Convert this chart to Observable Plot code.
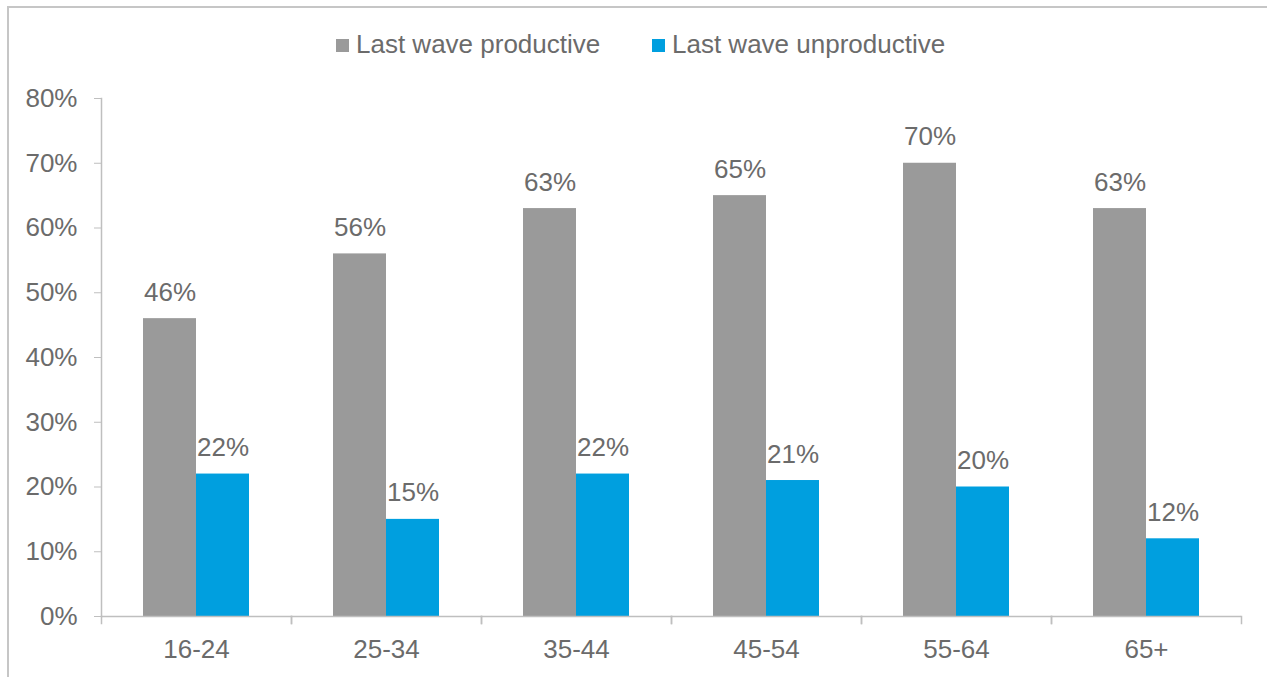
<!DOCTYPE html>
<html>
<head>
<meta charset="utf-8">
<script src="https://cdn.jsdelivr.net/npm/d3@7"></script>
<script src="https://cdn.jsdelivr.net/npm/@observablehq/plot@0.6"></script>
<style>
  html, body { margin: 0; padding: 0; background: #fff; overflow: hidden; }
  #wrap { position: relative; width: 1267px; height: 677px; font-family: "Liberation Sans", Arial, sans-serif; }
  #border { position: absolute; left: 7px; top: 6px; width: 1300px; height: 720px; border: 2px solid #c6c6c6; box-sizing: border-box; }
  #legend { position: relative; height: 75px; }
  .item { position: absolute; top: 31px; font-size: 26px; line-height: 26px; color: #6b6b6b; white-space: nowrap; }
  .sw { position: absolute; width: 13px; height: 13px; top: 8px; }
  #chart { position: relative; }
</style>
</head>
<body>
<div id="wrap">
  <div id="border"></div>
  <div id="legend"></div>
  <div id="chart"></div>
</div>
<script>
// Age groups along the bottom
const ageGroups = ["16-24", "25-34", "35-44", "45-54", "55-64", "65+"];
// Share of respondents (%) in each group
const productive = [46, 56, 63, 65, 70, 63];
const unproductive = [22, 15, 22, 21, 20, 12];
const seriesNames = ["Last wave productive", "Last wave unproductive"];
const seriesColors = ["#9a9a9a", "#009fdf"];
const yTicks = [0, 10, 20, 30, 40, 50, 60, 70, 80];

// long table: one row per bar
const rows = [];
ageGroups.forEach((g, i) => {
  rows.push({group: g, series: seriesNames[0], value: productive[i]});
  rows.push({group: g, series: seriesNames[1], value: unproductive[i]});
});

// legend
const legend = document.getElementById("legend");
const legendLeft = [336, 652];
seriesNames.forEach((name, i) => {
  const item = document.createElement("div");
  item.className = "item";
  item.style.left = legendLeft[i] + "px";
  item.style.paddingLeft = "20px";
  const sw = document.createElement("span");
  sw.className = "sw";
  sw.style.left = "0px";
  sw.style.background = seriesColors[i];
  item.appendChild(sw);
  item.appendChild(document.createTextNode(name));
  legend.appendChild(item);
});

const axisGray = "#bfbfbf";
const textGray = "#6b6b6b";

const chart = Plot.plot({
  width: 1267,
  height: 602,
  marginTop: 23,
  marginBottom: 61,
  marginLeft: 101,
  marginRight: 26,
  style: {fontFamily: "'Liberation Sans', Arial, sans-serif", fontSize: "26px", color: textGray, background: "transparent"},
  fx: {domain: ageGroups, padding: 0, label: null, axis: null},
  x: {domain: seriesNames, paddingInner: 0, paddingOuter: 0.76, axis: null},
  y: {domain: [0, 80], range: [602 - 61, 23], label: null, axis: null},
  color: {domain: seriesNames, range: seriesColors},
  marks: [
    Plot.barY(rows, {fx: "group", x: "series", y: "value", fill: "series"}),
    Plot.text(rows, {
      fx: "group", x: "series", y: "value",
      text: d => d.value + "%",
      lineAnchor: "bottom", dy: -18, fill: textGray, fontSize: 26
    }),
    Plot.ruleY([0], {stroke: axisGray, strokeWidth: 1.5}),
    // value axis line, in the first panel only
    Plot.frame({fx: [ageGroups[0]], anchor: "left", stroke: axisGray, strokeWidth: 1.5}),
    // category separators below the baseline
    Plot.frame({anchor: "left", stroke: axisGray, strokeWidth: 1.5, insetTop: 518, insetBottom: -7}),
    Plot.frame({anchor: "right", stroke: axisGray, strokeWidth: 1.5, insetTop: 518, insetBottom: -7}),
    Plot.axisY({
      ticks: yTicks, tickFormat: d => d + "%", tickSize: 7, tickPadding: 17,
      stroke: axisGray, fill: textGray, label: null, fontSize: 26
    }),
    Plot.axisFx({anchor: "bottom", tickSize: 0, tickPadding: 23, label: null, fill: textGray, fontSize: 26})
  ]
});
document.getElementById("chart").appendChild(chart);
</script>
</body>
</html>
